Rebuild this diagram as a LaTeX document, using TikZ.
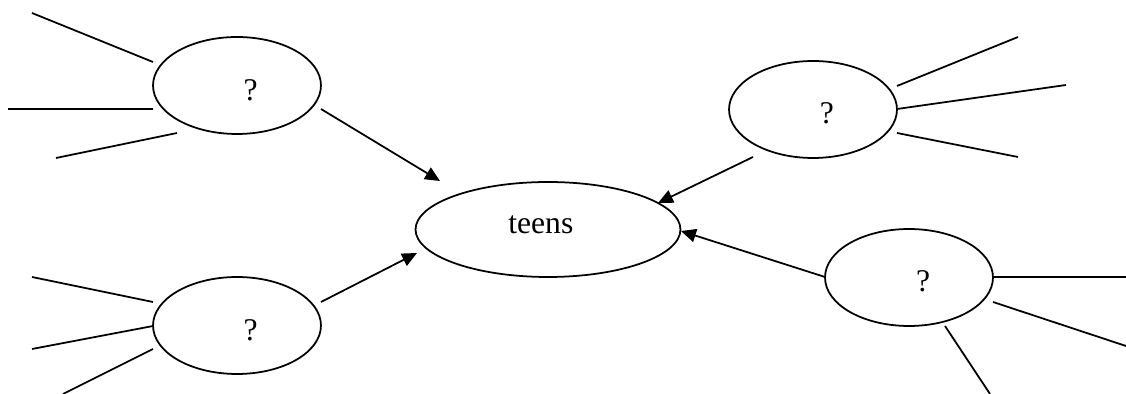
\documentclass[tikz,border=0pt]{standalone}
\usepackage{fontspec}
\setmainfont{Liberation Serif}
\usetikzlibrary{shapes.geometric,arrows.meta}
\begin{document}
\begin{tikzpicture}[x=0.02cm,y=-0.02cm,
  bub/.style={draw, ellipse, line width=1pt, minimum width=3.36cm, minimum height=1.94cm, inner sep=0pt},
  big/.style={draw, ellipse, line width=1pt, minimum width=5.3cm, minimum height=1.9cm, inner sep=0pt},
  txt/.style={font=\fontsize{18}{20}\selectfont},
  ray/.style={line width=1pt},
  arr/.style={line width=1pt, -{Triangle[length=8.5pt,width=7.6pt]}}]
\useasboundingbox (0,0) rectangle (1126,394);
% nodes
\node[big, label={[txt, xshift=-4.1pt, yshift=2.8pt]center:teens}] (T) at (548,229.5) {};
\node[bub, label={[txt, xshift=7.7pt, yshift=-2.5pt]center:?}] (TL) at (237,85.5) {};
\node[bub, label={[txt, xshift=7.7pt, yshift=-2.5pt]center:?}] (BL) at (237,325.5) {};
\node[bub, label={[txt, xshift=7.9pt, yshift=-2.4pt]center:?}] (TR) at (813,109.5) {};
\node[bub, label={[txt, xshift=8.1pt, yshift=-2.1pt]center:?}] (BR) at (909,277.5) {};
% free ends
\coordinate (tl1) at (32,13);
\coordinate (tl2) at (8,109);
\coordinate (tl3) at (56,158);
\coordinate (bl1) at (32,277);
\coordinate (bl2) at (32,349);
\coordinate (bl3) at (63,394);
\coordinate (tr1) at (1018,37);
\coordinate (tr2) at (1066,85);
\coordinate (tr3) at (1018,157);
\coordinate (br1) at (1126,277);
\coordinate (br2) at (1126,346);
\coordinate (br3) at (990,394);
% rays
\draw[ray] ([shift={(-84,-23.5)}]TL.center) -- (tl1);
\draw[ray] ([shift={(-84,23.5)}]TL.center) -- (tl2);
\draw[ray] ([shift={(-60,47.5)}]TL.center) -- (tl3);
\draw[ray] ([shift={(-84,-23.5)}]BL.center) -- (bl1);
\draw[ray] ([shift={(-84,0.5)}]BL.center) -- (bl2);
\draw[ray] ([shift={(-84,23.5)}]BL.center) -- (bl3);
\draw[ray] ([shift={(84,-23.5)}]TR.center) -- (tr1);
\draw[ray] ([shift={(84,-0.5)}]TR.center) -- (tr2);
\draw[ray] ([shift={(84,23.5)}]TR.center) -- (tr3);
\draw[ray] ([shift={(84,-0.5)}]BR.center) -- (br1);
\draw[ray] ([shift={(84,24.5)}]BR.center) -- (br2);
\draw[ray] ([shift={(36,48.5)}]BR.center) -- (br3);
% arrows
\draw[arr] ([shift={(84,23.5)}]TL.center) -- ([shift={(-108,-48.5)}]T.center);
\draw[arr] ([shift={(84,-23.5)}]BL.center) -- ([shift={(-131,23.5)}]T.center);
\draw[arr] ([shift={(-60,47.5)}]TR.center) -- ([shift={(110,-26.5)}]T.center);
\draw[arr] ([shift={(-84,-0.5)}]BR.center) -- ([shift={(133,1.5)}]T.center);
\end{tikzpicture}
\end{document}
